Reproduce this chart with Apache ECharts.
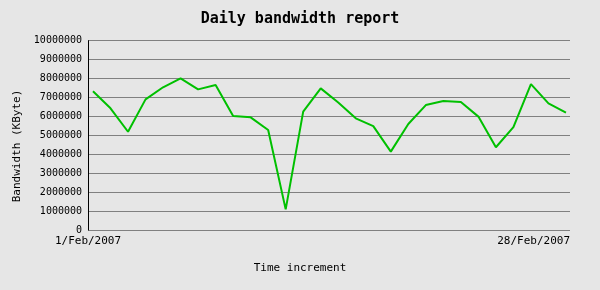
<!DOCTYPE html>
<html><head><meta charset="utf-8">
<script src="https://cdn.jsdelivr.net/npm/echarts@6/dist/echarts.min.js"></script>
<style>html,body{margin:0;padding:0;background:#e6e6e6}#c{width:600px;height:290px}</style>
</head><body><div id="c"></div>
<script>
var days = [1,2,3,4,5,6,7,8,9,10,11,12,13,14,15,16,17,18,19,20,21,22,23,24,25,26,27,28];
var bandwidth = [7330000,6430000,5190000,6900000,7540000,8010000,7430000,7660000,6020000,5950000,5280000,1090000,6250000,7480000,6740000,5900000,5490000,4140000,5600000,6600000,6810000,6760000,5990000,4370000,5430000,7710000,6690000,6200000];
var xTickLabels = ['1/Feb/2007','28/Feb/2007'];
var titleText = 'Daily bandwidth report';
var xName = 'Time increment';
var yName = 'Bandwidth (KByte)';

var xMin = 0.715, xMax = 28.23;
var font = 'DejaVu Sans Mono';
var chart = echarts.init(document.getElementById('c'), null, {renderer:'canvas'});
chart.setOption({
  backgroundColor:'#e6e6e6',
  animation:false,
  title:[
    {text:titleText,left:'center',top:7,textStyle:{fontFamily:font,fontSize:15,fontWeight:'bold',color:'#000'}},
    {text:xName,left:'center',top:258,textStyle:{fontFamily:font,fontSize:11,fontWeight:'normal',color:'#000'}}
  ],
  graphic:[{type:'text',x:17,y:146,rotation:Math.PI/2,style:{text:yName,fontFamily:font,fontSize:11,fill:'#000',align:'center',verticalAlign:'middle'}}],
  grid:{left:88,right:30,top:40.7,bottom:60},
  xAxis:{type:'value',min:xMin,max:xMax,
    axisLine:{show:false},axisTick:{show:false},splitLine:{show:false},
    axisLabel:{customValues:[xMin,xMax],formatter:function(v){return v===xMin?xTickLabels[0]:xTickLabels[1];},
      alignMinLabel:'center',alignMaxLabel:'right',fontFamily:font,fontSize:11,color:'#000',margin:6}},
  yAxis:{type:'value',min:0,max:10000000,interval:1000000,
    axisLine:{show:true,lineStyle:{color:'#000',width:1}},axisTick:{show:false},
    splitLine:{show:true,lineStyle:{color:'#808080',width:1}},
    axisLabel:{fontFamily:font,fontSize:10,color:'#000',margin:6,formatter:function(v){return String(v);}}},
  series:[{type:'line',data:days.map(function(d,i){return [d,bandwidth[i]];}),
    symbol:'none',lineStyle:{color:'#00c000',width:2},silent:true}]
});
</script></body></html>
